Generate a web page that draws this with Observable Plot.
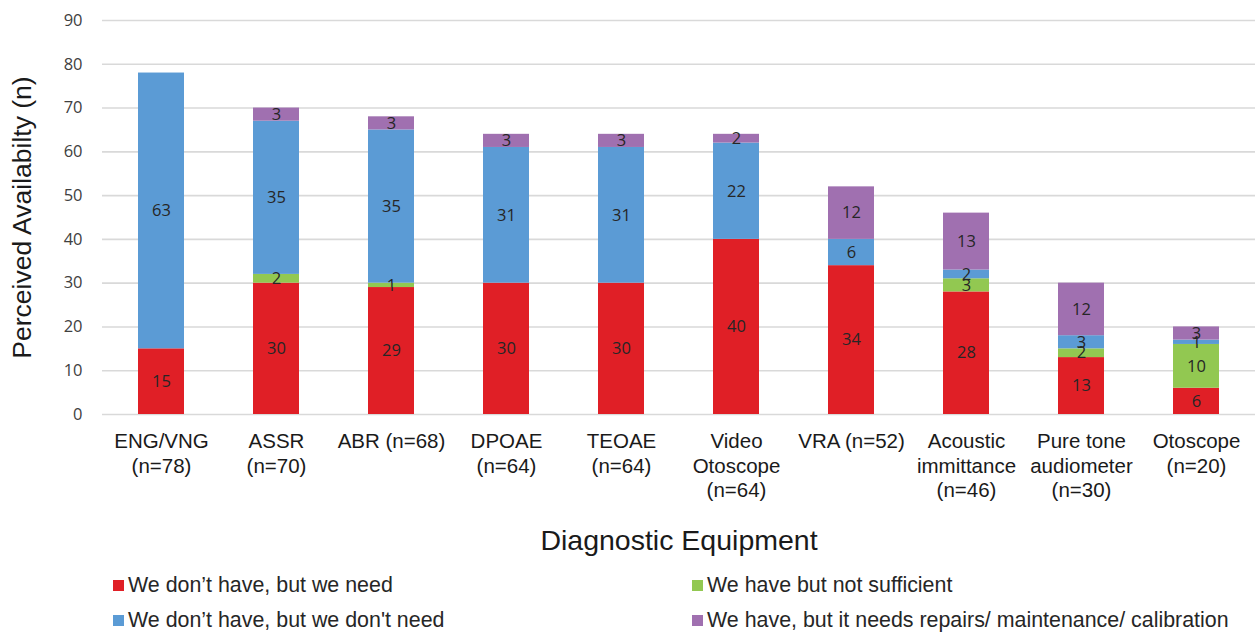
<!DOCTYPE html>
<html>
<head>
<meta charset="utf-8">
<script src="https://cdn.jsdelivr.net/npm/d3@7"></script>
<script src="https://cdn.jsdelivr.net/npm/@observablehq/plot@0.6"></script>
<style>
  body { margin: 0; background: #fff; font-family: "Liberation Sans", Arial, sans-serif; }
  #chart { width: 1258px; }
  .legend { position: relative; height: 72px; width: 1258px; font-size: 21.4px; line-height: 24px; color: #262626; }
  .item { position: absolute; display: flex; align-items: center; white-space: nowrap; }
  .sw { width: 11px; height: 11px; margin-right: 4px; display: inline-block; }
</style>
</head>
<body>
<div id="chart"></div>
<script>
const categories = ["ENG/VNG\n(n=78)", "ASSR\n(n=70)", "ABR (n=68)", "DPOAE\n(n=64)", "TEOAE\n(n=64)", "Video\nOtoscope\n(n=64)", "VRA (n=52)", "Acoustic\nimmittance\n(n=46)", "Pure tone\naudiometer\n(n=30)", "Otoscope\n(n=20)"];
const seriesNames = ["We don\u2019t have, but we need", "We have but not sufficient", "We don\u2019t have, but we don't need", "We have, but it needs repairs/ maintenance/ calibration"];
const seriesColors = ["#e01f26", "#92c851", "#5b9bd5", "#a070b0"];
const needValues =       [15, 30, 29, 30, 30, 40, 34, 28, 13, 6];
const notSufficient =    [0, 2, 1, 0, 0, 0, 0, 3, 2, 10];
const dontNeed =         [63, 35, 35, 31, 31, 22, 6, 2, 3, 1];
const repairs =          [0, 3, 3, 3, 3, 2, 12, 13, 12, 3];
const yTicks = [0, 10, 20, 30, 40, 50, 60, 70, 80, 90];
const yTitle = "Perceived Availabilty (n)";
const xTitle = "Diagnostic Equipment";

const seriesValues = [needValues, notSufficient, dontNeed, repairs];
const table = [];
categories.forEach((c, i) => {
  seriesValues.forEach((vals, s) => {
    if (vals[i] > 0) table.push({cat: c, series: seriesNames[s], value: vals[i]});
  });
});

const W = 1258, H = 560;
const numFont = "'Open Sans', 'Noto Sans', sans-serif";
const plot = Plot.plot({
  width: W,
  height: H,
  marginLeft: 102,
  marginRight: 3,
  marginTop: 20,
  marginBottom: H - 414,
  style: {fontFamily: "'Liberation Sans', Arial, sans-serif", color: "#222", background: "#fff"},
  x: {domain: categories, paddingInner: 0.6, paddingOuter: 0.3, label: null},
  y: {domain: [0, 90], label: null},
  color: {domain: seriesNames, range: seriesColors},
  marks: [
    Plot.gridY(yTicks, {stroke: "#d9d9d9", strokeOpacity: 1, strokeWidth: 1.6}),
    Plot.barY(table, Plot.stackY({x: "cat", y: "value", z: "series", fill: "series", order: null})),
    Plot.text(table, Plot.stackY({x: "cat", y: "value", z: "series", text: "value", order: null, fill: "#262626", fontSize: 16.5, fontFamily: numFont})),
    Plot.axisY(yTicks, {tickSize: 0, tickPadding: 20, fontSize: 16.5, fontFamily: numFont, fill: "#404040", label: null}),
    Plot.axisX({tickSize: 0, tickPadding: 16, fontSize: 20.5, lineHeight: 1.2, fill: "#1a1a1a", label: null}),
    Plot.text([yTitle], {frameAnchor: "left", textAnchor: "middle", rotate: -90, dx: -80, fontSize: 26.5, fill: "#1a1a1a"}),
    Plot.text([xTitle], {frameAnchor: "bottom", dy: 135, fontSize: 28.5, fill: "#1a1a1a"})
  ]
});
document.getElementById("chart").appendChild(plot);

const legend = document.createElement("div");
legend.className = "legend";
const pos = [[113, 13], [692, 13], [113, 48], [692, 48]];
[0, 1, 2, 3].forEach((s, k) => {
  const it = document.createElement("div");
  it.className = "item";
  it.style.left = pos[k][0] + "px";
  it.style.top = pos[k][1] + "px";
  const sw = document.createElement("span");
  sw.className = "sw";
  sw.style.background = seriesColors[s];
  it.appendChild(sw);
  it.appendChild(document.createTextNode(seriesNames[s]));
  legend.appendChild(it);
});
document.body.appendChild(legend);
</script>
</body>
</html>
